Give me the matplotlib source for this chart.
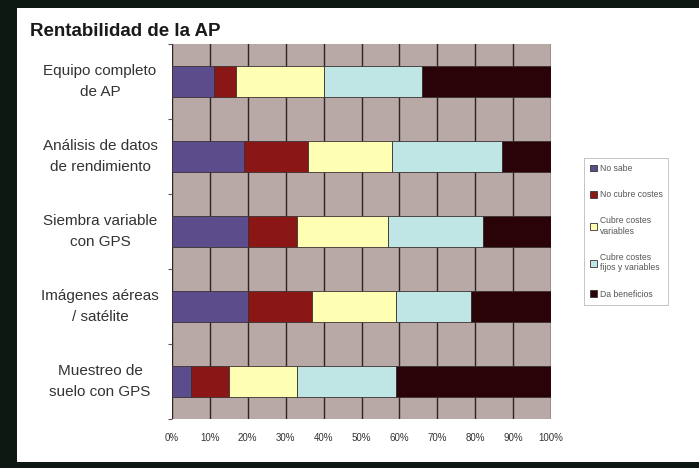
import numpy as np
import matplotlib.pyplot as plt
from matplotlib.patches import Rectangle

categories = ['Equipo completo\nde AP', 'Análisis de datos\nde rendimiento',
              'Siembra variable\ncon GPS', 'Imágenes aéreas\n/ satélite',
              'Muestreo de\nsuelo con GPS']
series = ['No sabe', 'No cubre costes', 'Cubre costes\nvariables',
          'Cubre costes\nfijos y variables', 'Da beneficios']
no_sabe = [11, 19, 20, 20, 5]
no_cubre = [6, 17, 13, 17, 10]
cubre_var = [23, 22, 24, 22, 18]
cubre_fijos = [26, 29, 25, 20, 26]
beneficios = [34, 13, 18, 21, 41]
colors = ['#5b4d8c', '#8a1616', '#ffffb3', '#bfe6e4', '#2a0309']
xticks = [0, 10, 20, 30, 40, 50, 60, 70, 80, 90, 100]


def main():
    plt.rcParams['font.family'] = ['Liberation Sans', 'DejaVu Sans']
    fig = plt.figure(figsize=(6.99, 4.68), dpi=100, facecolor='#0d1812')
    fig.patches.append(Rectangle((17 / 699, 6 / 468), 1, 454 / 468,
                                 transform=fig.transFigure, facecolor='white',
                                 edgecolor='none', zorder=-5))
    ax = fig.add_axes([172 / 699, 1 - 419 / 468, 379 / 699, 375 / 468])
    ax.set_zorder(2)
    ax.set_facecolor('#b8a9a6')

    data = np.array([no_sabe, no_cubre, cubre_var, cubre_fijos, beneficios], dtype=float)
    data = data / data.sum(axis=0) * 100
    y = np.arange(len(categories))
    left = np.zeros(len(categories))
    for i, name in enumerate(series):
        ax.barh(y, data[i], left=left, height=0.41, color=colors[i],
                edgecolor='#3b3030', linewidth=0.6, label=name, zorder=3)
        left += data[i]

    ax.set_xlim(0, 100)
    ax.set_ylim(len(categories) - 0.5, -0.5)
    ax.set_xticks(xticks)
    ax.set_xticklabels([f'{v}%' for v in xticks], fontsize=7, color='#333333')
    ax.tick_params(axis='x', length=0, pad=10)
    ax.grid(axis='x', color='#2e2424', linewidth=1, zorder=1)
    ax.set_yticks(np.arange(len(categories) + 1) - 0.5)
    ax.set_yticklabels([])
    ax.tick_params(axis='y', length=3, color='#555555')
    for s in ax.spines.values():
        s.set_visible(False)

    for yi, cat in zip(y, categories):
        ax.text(-0.19, yi, cat, transform=ax.get_yaxis_transform(),
                ha='center', va='center', fontsize=11, color='#333333',
                linespacing=1.55)

    fig.text(30 / 699, 1 - 31 / 468, 'Rentabilidad de la AP', fontsize=13.5,
             fontweight='bold', color='#1a1a1a', va='center')

    leg = ax.legend(loc='upper left', bbox_to_anchor=(584 / 699, 1 - 158 / 468),
                    bbox_transform=fig.transFigure, fontsize=6.2, frameon=True,
                    fancybox=False, edgecolor='#aaaaaa', labelspacing=2.0,
                    handlelength=0.8, handleheight=0.8, handletextpad=0.3,
                    borderpad=0.7, borderaxespad=0)
    leg.get_frame().set_linewidth(0.6)
    for t in leg.get_texts():
        t.set_color('#555555')

    fig.savefig('out.png', dpi=100, facecolor=fig.get_facecolor())


if __name__ == '__main__':
    main()
